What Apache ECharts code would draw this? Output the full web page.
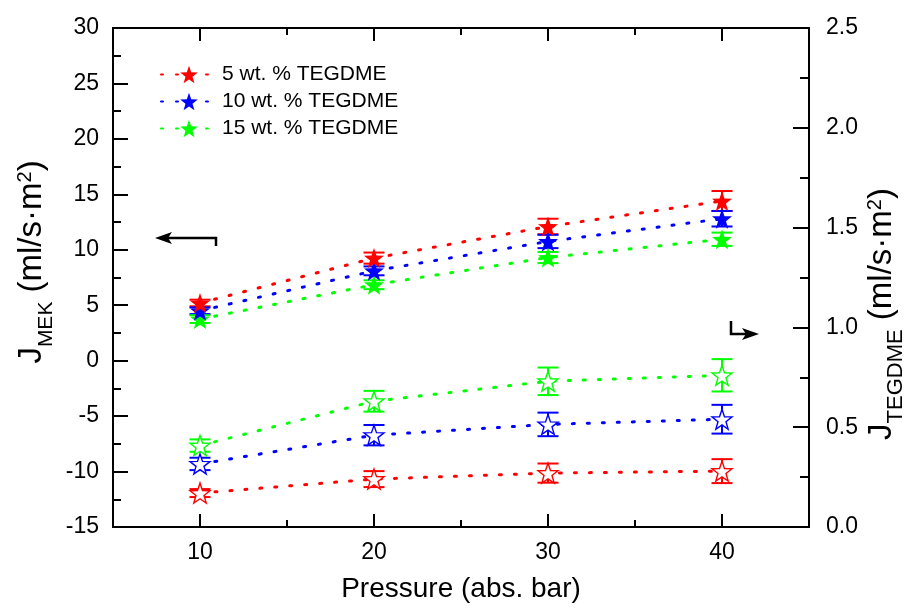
<!DOCTYPE html>
<html>
<head>
<meta charset="utf-8">
<script src="https://cdn.jsdelivr.net/npm/echarts@6/dist/echarts.min.js"></script>
<style>
html,body{margin:0;padding:0;background:#fff;}
#chart{width:917px;height:608px;}
</style>
</head>
<body>
<div id="chart"></div>
<script>
// ---- data ----
const pressure = [10, 20, 30, 40];
const seriesNames = ['5 wt. % TEGDME', '10 wt. % TEGDME', '15 wt. % TEGDME'];
const colors = ['#ff0000', '#0000ff', '#00ff00'];
// J_MEK (left axis), filled stars
const mek5 = [5.2, 9.25, 12.1, 14.4];
const mek5Err = [0.3, 0.5, 0.7, 0.9];
const mek10 = [4.5, 8.1, 10.75, 12.8];
const mek10Err = [0.3, 0.4, 0.6, 0.7];
const mek15 = [3.75, 6.85, 9.3, 10.95];
const mek15Err = [0.35, 0.4, 0.5, 0.6];
// J_TEGDME (right axis), open stars
const teg5 = [0.17, 0.24, 0.27, 0.28];
const teg5Err = [0.02, 0.04, 0.048, 0.06];
const teg10 = [0.316, 0.46, 0.514, 0.54];
const teg10Err = [0.031, 0.051, 0.059, 0.072];
const teg15 = [0.408, 0.63, 0.73, 0.76];
const teg15Err = [0.031, 0.052, 0.069, 0.081];
// ticks
const xMajorTicks = [10, 20, 30, 40];
const xMinorTicks = [15, 25, 35];

const FONT = 'Liberation Sans, Arial, sans-serif';
const STAR = 'path://M0,-10 L2.35,-3.24 L9.51,-3.09 L3.8,1.24 L5.88,8.09 L0,4.2 L-5.88,8.09 L-3.8,1.24 L-9.51,-3.09 L-2.35,-3.24 Z';

const mekSets = [[mek5, mek5Err], [mek10, mek10Err], [mek15, mek15Err]];
const tegSets = [[teg5, teg5Err], [teg10, teg10Err], [teg15, teg15Err]];

function lineSeries(name, vals, color, yIdx, filled) {
  return {
    type: 'line', name: name, xAxisIndex: 0, yAxisIndex: yIdx,
    data: pressure.map((p, i) => [p, vals[i]]),
    symbol: STAR, symbolSize: 20, showAllSymbol: true,
    lineStyle: { color: color, width: 3, type: [2, 13], cap: 'round' },
    itemStyle: filled ? { color: color, borderWidth: 0 } : { color: '#ffffff', borderColor: color, borderWidth: 1.4 },
    z: 4, silent: true, animation: false
  };
}
function errSeries(vals, errs, color, yIdx) {
  return {
    type: 'custom', xAxisIndex: 0, yAxisIndex: yIdx,
    data: pressure.map((p, i) => [p, vals[i], errs[i]]),
    encode: { x: 0, y: 1 },
    z: 3, silent: true, animation: false,
    renderItem: function (params, api) {
      const x = api.value(0), y = api.value(1), e = api.value(2);
      const t = api.coord([x, y + e]);
      const b = api.coord([x, y - e]);
      const hw = 10.5;
      const st = { stroke: color, lineWidth: 2 };
      return {
        type: 'group', children: [
          { type: 'line', shape: { x1: t[0], y1: t[1], x2: b[0], y2: b[1] }, style: st },
          { type: 'line', shape: { x1: t[0] - hw, y1: t[1], x2: t[0] + hw, y2: t[1] }, style: st },
          { type: 'line', shape: { x1: b[0] - hw, y1: b[1], x2: b[0] + hw, y2: b[1] }, style: st }
        ]
      };
    }
  };
}

const series = [];
for (let k = 0; k < 3; k++) {
  series.push(errSeries(mekSets[k][0], mekSets[k][1], colors[k], 0));
  series.push(errSeries(tegSets[k][0], tegSets[k][1], colors[k], 1));
}
for (let k = 0; k < 3; k++) {
  series.push(lineSeries(seriesNames[k] + ' (TEGDME flux)', tegSets[k][0], colors[k], 1, false));
}
for (let k = 2; k >= 0; k--) {
  series.push(lineSeries(seriesNames[k], mekSets[k][0], colors[k], 0, true));
}

const axisLine = { show: true, onZero: false, lineStyle: { color: '#000', width: 2 } };
function xAx(pos, ticks, len, labels) {
  return {
    type: 'value', position: pos, min: 5, max: 45,
    axisLine: axisLine,
    axisTick: { show: true, inside: true, length: len, customValues: ticks, lineStyle: { color: '#000', width: 2 } },
    axisLabel: labels ? { show: true, customValues: ticks, margin: 14, fontSize: 23, color: '#000', fontFamily: FONT } : { show: false },
    splitLine: { show: false }
  };
}

const rich = function (main, sub, sup) {
  return {
    m: { fontSize: main, lineHeight: 42, verticalAlign: 'top', fontFamily: FONT, fill: '#000', color: '#000' },
    s: { fontSize: sub, lineHeight: sub, verticalAlign: 'bottom', fontFamily: FONT, fill: '#000', color: '#000' },
    p: { fontSize: sup, lineHeight: sup, verticalAlign: 'top', fontFamily: FONT, fill: '#000', color: '#000' }
  };
};

const chart = echarts.init(document.getElementById('chart'), null, { renderer: 'canvas' });
chart.setOption({
  backgroundColor: '#ffffff',
  animation: false,
  grid: { left: 113, right: 108, top: 28, bottom: 79, containLabel: false },
  legend: {
    data: seriesNames,
    orient: 'vertical', left: 155, top: 59,
    itemWidth: 56, itemHeight: 22, itemGap: 6,
    textStyle: { fontSize: 21, color: '#000', fontFamily: FONT },
    selectedMode: false
  },
  xAxis: [
    Object.assign(xAx('bottom', xMajorTicks, 13, true), {
      name: 'Pressure (abs. bar)', nameLocation: 'middle', nameGap: 48,
      nameTextStyle: { fontSize: 28, color: '#000', fontFamily: FONT }
    }),
    xAx('top', xMajorTicks, 13, false),
    xAx('bottom', xMinorTicks, 7, false),
    xAx('top', xMinorTicks, 7, false)
  ],
  yAxis: [
    {
      type: 'value', position: 'left', min: -15, max: 30, interval: 5,
      axisLine: axisLine,
      axisTick: { show: true, inside: true, length: 15, lineStyle: { color: '#000', width: 2 } },
      minorTick: { show: true, splitNumber: 2, length: 8, lineStyle: { color: '#000', width: 2 } },
      axisLabel: { fontSize: 23, color: '#000', margin: 14, fontFamily: FONT },
      splitLine: { show: false }, minorSplitLine: { show: false }
    },
    {
      type: 'value', position: 'right', min: 0, max: 2.5, interval: 0.5,
      axisLine: axisLine,
      axisTick: { show: true, inside: true, length: 16, lineStyle: { color: '#000', width: 2 } },
      minorTick: { show: true, splitNumber: 2, length: 9, lineStyle: { color: '#000', width: 2 } },
      axisLabel: { fontSize: 23, color: '#000', margin: 17, fontFamily: FONT, formatter: v => v.toFixed(1) },
      splitLine: { show: false }, minorSplitLine: { show: false }
    }
  ],
  graphic: [
    {
      type: 'text', x: 36, y: 262, rotation: Math.PI / 2, silent: true,
      style: { text: '{m|J}{s|MEK}{m| (ml/s·m}{p|2}{m|)}', rich: rich(33, 21, 20), align: 'center', verticalAlign: 'middle' }
    },
    {
      type: 'text', x: 886, y: 314, rotation: Math.PI / 2, silent: true,
      style: { text: '{m|J}{s|TEGDME}{m| (ml/s·m}{p|2}{m|)}', rich: rich(33, 22, 20), align: 'center', verticalAlign: 'middle' }
    },
    // left arrow
    { type: 'polyline', silent: true, shape: { points: [[168, 238], [216, 238], [216, 246]] }, style: { stroke: '#000', lineWidth: 2.5, fill: null } },
    { type: 'polygon', silent: true, shape: { points: [[155, 238], [172, 232], [168, 238], [172, 244]] }, style: { fill: '#000' } },
    // right arrow
    { type: 'polyline', silent: true, shape: { points: [[731, 321], [731, 334], [746, 334]] }, style: { stroke: '#000', lineWidth: 2.5, fill: null } },
    { type: 'polygon', silent: true, shape: { points: [[759, 334], [742, 328], [746, 334], [742, 340]] }, style: { fill: '#000' } }
  ],
  series: series
});
</script>
</body>
</html>
